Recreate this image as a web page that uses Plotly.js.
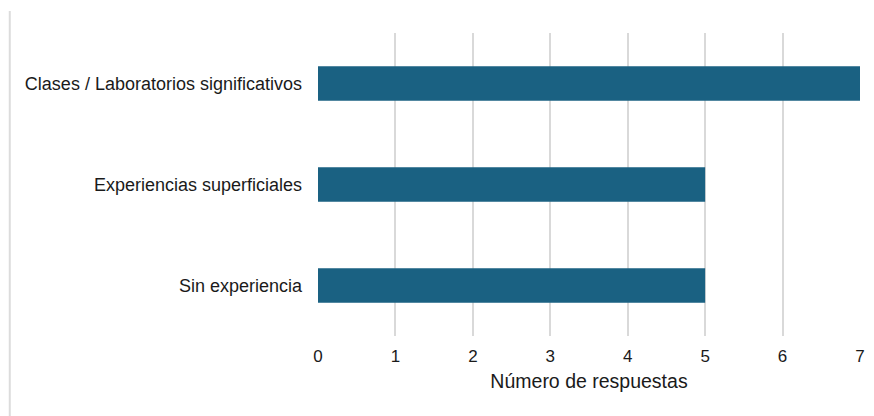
<!DOCTYPE html>
<html>
<head>
<meta charset="utf-8">
<script src="https://cdn.plot.ly/plotly-3.0.1.min.js"></script>
<style>html,body{margin:0;padding:0;background:#fff;}#chart{width:874px;height:416px;}</style>
</head>
<body>
<div id="chart"></div>
<script>
const categories = ["Clases / Laboratorios significativos", "Experiencias superficiales", "Sin experiencia"];
const values = [7, 5, 5];
const tickValues = [0, 1, 2, 3, 4, 5, 6, 7];
const xTitle = "Número de respuestas";

const trace = {
  type: "bar",
  orientation: "h",
  y: categories,
  x: values,
  width: 0.34,
  marker: {color: "#1a6182"},
  hoverinfo: "none"
};

const layout = {
  width: 874,
  height: 416,
  margin: {l: 318, r: 14, t: 33, b: 80},
  paper_bgcolor: "#fff",
  plot_bgcolor: "#fff",
  font: {family: "Liberation Sans, Arial, sans-serif", color: "#1a1a1a", size: 17},
  showlegend: false,
  xaxis: {
    range: [0, 7],
    tickvals: tickValues,
    showgrid: true,
    gridcolor: "#d9d9d9",
    gridwidth: 2,
    zeroline: false,
    showline: false,
    ticks: "",
    ticklen: 0,
    ticklabelstandoff: 8,
    tickfont: {size: 17, color: "#1a1a1a"},
    title: {text: xTitle, font: {size: 19.5, color: "#1a1a1a"}, standoff: 9}
  },
  yaxis: {
    autorange: "reversed",
    showgrid: false,
    zeroline: false,
    showline: false,
    ticks: "",
    ticklabelstandoff: 15,
    tickfont: {size: 18, color: "#1a1a1a"}
  },
  shapes: [{
    type: "line", xref: "paper", yref: "paper",
    x0: -0.5687, x1: -0.5687, y0: 1.0726, y1: -0.27,
    line: {color: "#dcdcdc", width: 2}
  }]
};

Plotly.newPlot("chart", [trace], layout, {displayModeBar: false, staticPlot: true});
</script>
</body>
</html>
